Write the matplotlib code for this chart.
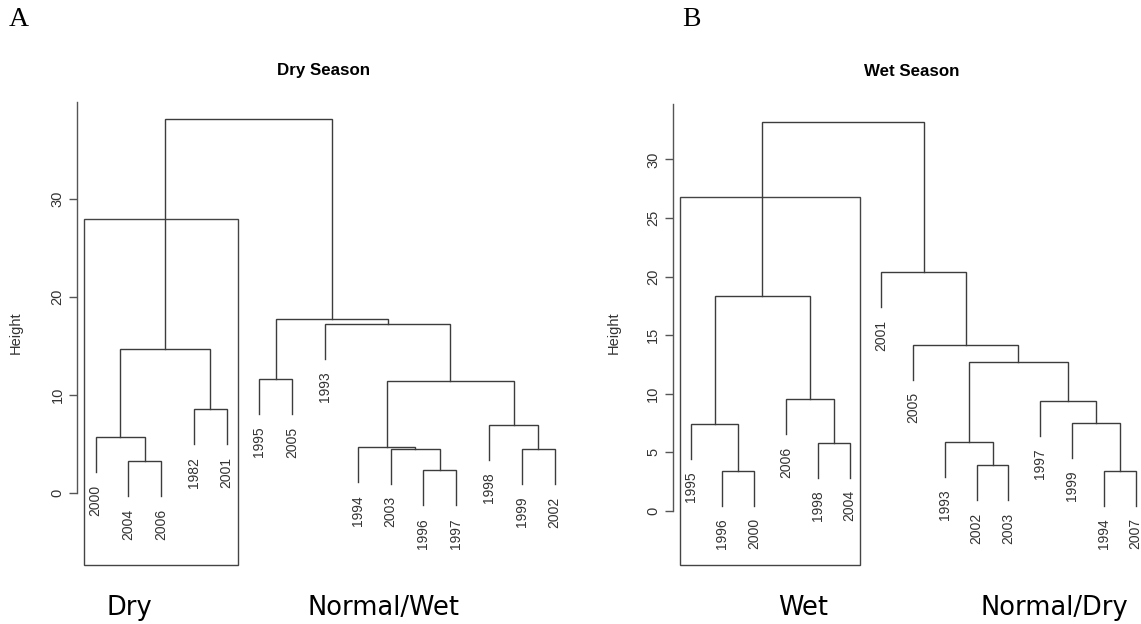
import matplotlib
matplotlib.use('Agg')
import matplotlib.pyplot as plt
from matplotlib.patches import Rectangle

plt.rcParams['font.family'] = 'Liberation Sans'

# ---- data ----
# merges: left child, right child, height; str = leaf label, int = earlier merge
dry_leaves = ['2000', '2004', '2006', '1982', '2001', '1995', '2005', '1993',
              '1994', '2003', '1996', '1997', '1998', '1999', '2002']
dry_left = ['2004', '2000', '1982', 1, '1996', '2003', '1994', '1999', '1998', 6, '1995', '1993', 10, 3]
dry_right = ['2006', 0, '2001', 2, '1997', 4, 5, '2002', 7, 8, '2005', 9, 11, 12]
dry_height = [3.21, 5.70, 8.53, 14.66, 2.29, 4.50, 4.64, 4.44, 6.92, 11.39, 11.63, 17.25, 17.79, 38.18]

wet_leaves = ['1995', '1996', '2000', '2006', '1998', '2004', '2001', '2005',
              '1993', '2002', '2003', '1997', '1999', '1994', '2007']
wet_left = ['1996', '1995', '1998', '2006', 1, '2002', '1993', '1994', '1999', '1997', 6, '2005', '2001', 4]
wet_right = ['2000', 0, '2004', 2, 3, '2003', 5, '2007', 7, 8, 9, 10, 11, 12]
wet_height = [3.44, 7.45, 5.83, 9.53, 18.34, 3.92, 5.91, 3.44, 7.53, 9.36, 12.71, 14.19, 20.37, 33.22]

dry_ticks = [0, 10, 20, 30]
wet_ticks = [0, 5, 10, 15, 20, 25, 30]

W, H = 1141, 624
LINE = '#3c3c3c'


def make_axes(fig, box, leaf_px, zero_py, ppu):
    # box: pixel (left, top, right, bottom); leaf_px: x pixel of first/last leaf
    l, t, r, b = box
    ax = fig.add_axes([l / W, (H - b) / H, (r - l) / W, (b - t) / H])
    step = (leaf_px[1] - leaf_px[0]) / 14
    ax.set_xlim((l - leaf_px[0]) / step + 1, (r - leaf_px[0]) / step + 1)
    ax.set_ylim((zero_py - b) / ppu, (zero_py - t) / ppu)
    return ax, step


def draw_tree(ax, leaves, left, right, heights):
    pos = {lab: i + 1 for i, lab in enumerate(leaves)}
    hang = 0.1 * (max(heights) - min(heights))
    node_x = []
    for a, b, h in zip(left, right, heights):
        xs, ys = [], []
        for c in (a, b):
            if isinstance(c, str):
                x, y = pos[c], h - hang
                ax.annotate(c, (x, y), xytext=(0, -9), textcoords='offset points',
                            rotation=90, ha='center', va='top', fontsize=10,
                            color='#333333', annotation_clip=False)
            else:
                x, y = node_x[c], heights[c]
            xs.append(x)
            ys.append(y)
        ax.plot([xs[0], xs[0], xs[1], xs[1]], [ys[0], h, h, ys[1]],
                color=LINE, lw=1.0, solid_joinstyle='miter')
        node_x.append((xs[0] + xs[1]) / 2)


def style_axis(ax, axis_x, ticks, top):
    for s in ['top', 'right', 'bottom']:
        ax.spines[s].set_visible(False)
    ax.spines['left'].set_position(('data', axis_x))
    ax.spines['left'].set_bounds(0, top)
    ax.spines['left'].set_color('#555555')
    ax.spines['left'].set_linewidth(1.0)
    ax.set_xticks([])
    ax.set_yticks(ticks)
    ax.set_yticklabels([str(t) for t in ticks], rotation=90, va='center',
                       fontsize=10.5, color='#333333')
    ax.tick_params(axis='y', length=6, width=1.0, color='#555555', pad=3)
    ax.set_facecolor('none')


def cluster_box(ax, n_left, heights):
    h = sorted(heights)[-2:]
    top = sum(h) / 2
    bottom = ax.get_ylim()[0]
    ax.add_patch(Rectangle((0.66, bottom), n_left + 0.33 - 0.66, top - bottom,
                           fill=False, edgecolor='#444444', lw=1.0, clip_on=False))


fig = plt.figure(figsize=(W / 100, H / 100), dpi=100)

# panel A
axA, stepA = make_axes(fig, (60, 95, 570, 565), (95.6, 554.5), 492.7, 9.78)
draw_tree(axA, dry_leaves, dry_left, dry_right, dry_height)
style_axis(axA, (77.1 - 95.6) / stepA + 1, dry_ticks, 39.9)
cluster_box(axA, 5, dry_height)
axA.set_ylabel('Height', fontsize=10.5, color='#333333')
axA.yaxis.set_label_coords((22.5 - 60) / 510, (565 - 333) / 470)

# panel B
axB, stepB = make_axes(fig, (640, 95, 1141, 565), (690.7, 1135.5), 511, 11.72)
draw_tree(axB, wet_leaves, wet_left, wet_right, wet_height)
style_axis(axB, (672.6 - 690.7) / stepB + 1, wet_ticks, 34.7)
cluster_box(axB, 6, wet_height)
axB.set_ylabel('Height', fontsize=10.5, color='#333333')
axB.yaxis.set_label_coords((621 - 640) / 501, (565 - 333) / 470)

# titles and annotations (pixel positions)
def ftext(px, py, s, **kw):
    fig.text(px / W, 1 - py / H, s, **kw)

ftext(323.6, 71, 'Dry Season', ha='center', va='center', fontsize=12.2, fontweight='bold')
ftext(911.8, 72, 'Wet Season', ha='center', va='center', fontsize=12.2, fontweight='bold')
ftext(18.3, 19.5, 'A', ha='center', va='center', fontsize=20, family='Liberation Serif')
ftext(691, 20, 'B', ha='center', va='center', fontsize=20, family='Liberation Serif')

for px, s in [(129, 'Dry'), (383, 'Normal/Wet'), (803.6, 'Wet'), (1054, 'Normal/Dry')]:
    ftext(px, 615, s, ha='center', va='baseline', fontsize=18.5, family='DejaVu Sans')

fig.savefig('out.png', dpi=100, facecolor='white')
